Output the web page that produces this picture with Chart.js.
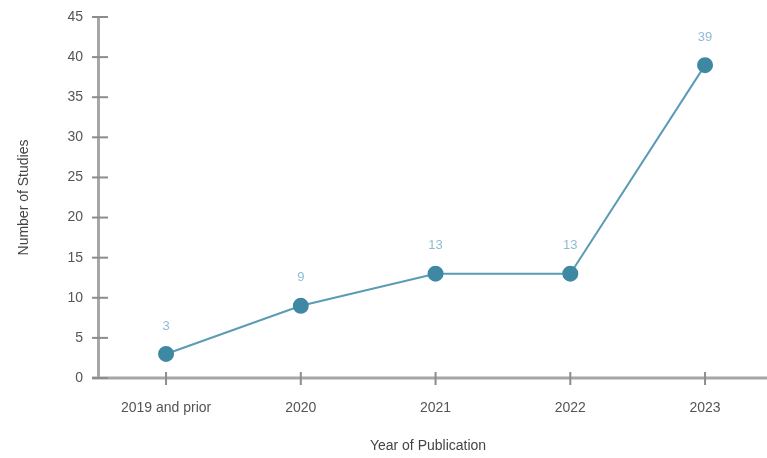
<!DOCTYPE html>
<html>
<head>
<meta charset="utf-8">
<script src="https://cdn.jsdelivr.net/npm/chart.js@4"></script>
<style>
  html, body { margin: 0; padding: 0; background: #fff; }
  #wrap { width: 767px; height: 458px; }
</style>
</head>
<body>
<div id="wrap"><canvas id="myChart"></canvas></div>
<script>
// dados do grafico
const anos = ['2019 and prior', '2020', '2021', '2022', '2023']
const estudos = [3, 9, 13, 13, 39]
const yTicks = [0, 5, 10, 15, 20, 25, 30, 35, 40, 45]

const axisColor = '#a6a6a6'
const textColor = '#555'
const fonte = '"Liberation Sans", Arial, sans-serif'

// pontos com x numerico para controlar o deslocamento das categorias
const pontos = estudos.map((v, i) => ({ x: i, y: v }))

// marcas que cruzam o eixo + rotulos de valor
const extras = {
    id: 'extras',
    afterDraw(chart) {
        const c = chart.ctx
        const xs = chart.scales.x
        const ys = chart.scales.y
        const area = chart.chartArea
        c.save()
        // eixo x ate a borda
        c.strokeStyle = axisColor
        c.lineWidth = 3
        c.beginPath()
        c.moveTo(area.left - 6, area.bottom)
        c.lineTo(chart.width, area.bottom)
        c.stroke()

        c.strokeStyle = '#8c8c8c'
        c.lineWidth = 2
        yTicks.forEach(t => {
            const py = ys.getPixelForValue(t)
            c.beginPath()
            c.moveTo(area.left - 6, py)
            c.lineTo(area.left + 10, py)
            c.stroke()
        })
        anos.forEach((a, i) => {
            const px = xs.getPixelForValue(i)
            c.beginPath()
            c.moveTo(px, area.bottom - 6)
            c.lineTo(px, area.bottom + 7)
            c.stroke()
        })
        // rotulos
        c.fillStyle = '#8fbcd2'
        c.font = '13px ' + fonte
        c.textAlign = 'center'
        c.textBaseline = 'middle'
        const meta = chart.getDatasetMeta(0)
        meta.data.forEach((p, i) => {
            c.fillText(String(estudos[i]), p.x, p.y - 28)
        })
        c.restore()
    }
}

const ctx = document.getElementById('myChart')
new Chart(ctx, {
    type: 'line',
    data: {
        datasets: [{
            label: 'Number of Studies',
            data: pontos,
            borderColor: '#5b9bb6',
            borderWidth: 2,
            backgroundColor: '#3f88a4',
            pointBackgroundColor: '#3f88a4',
            pointBorderColor: '#3f88a4',
            pointRadius: 7,
            pointHoverRadius: 7,
            tension: 0
        }]
    },
    options: {
        responsive: true,
        maintainAspectRatio: false,
        animation: false,
        layout: { padding: { left: 0, right: 0, top: 17, bottom: 0 } },
        plugins: {
            legend: { display: false },
            tooltip: { enabled: false }
        },
        scales: {
            x: {
                type: 'linear',
                min: -0.505,
                max: 4.393,
                afterBuildTicks: (s) => { s.ticks = anos.map((a, i) => ({ value: i })) },
                afterFit: (s) => { s.height = 80; s.paddingRight = 0 },
                grid: { display: false, drawTicks: false },
                border: { display: false },
                ticks: {
                    padding: 22,
                    color: textColor,
                    font: { size: 14, family: fonte },
                    callback: (v) => anos[v] !== undefined ? anos[v] : ''
                },
                title: {
                    display: true,
                    text: 'Year of Publication',
                    color: '#444',
                    font: { size: 14, family: fonte },
                    padding: { top: 0, bottom: 3 }
                }
            },
            y: {
                min: 0,
                max: 45,
                afterBuildTicks: (s) => { s.ticks = yTicks.map(v => ({ value: v })) },
                afterFit: (s) => { s.width = 98; s.paddingTop = 0; s.paddingBottom = 0 },
                grid: { display: false, drawTicks: false },
                border: { color: axisColor, width: 3 },
                ticks: {
                    padding: 15,
                    color: textColor,
                    font: { size: 14, family: fonte }
                },
                title: {
                    display: true,
                    text: 'Number of Studies',
                    color: '#444',
                    font: { size: 14, family: fonte },
                    padding: { top: 16, bottom: 0 }
                }
            }
        }
    },
    plugins: [extras]
})
</script>
</body>
</html>
